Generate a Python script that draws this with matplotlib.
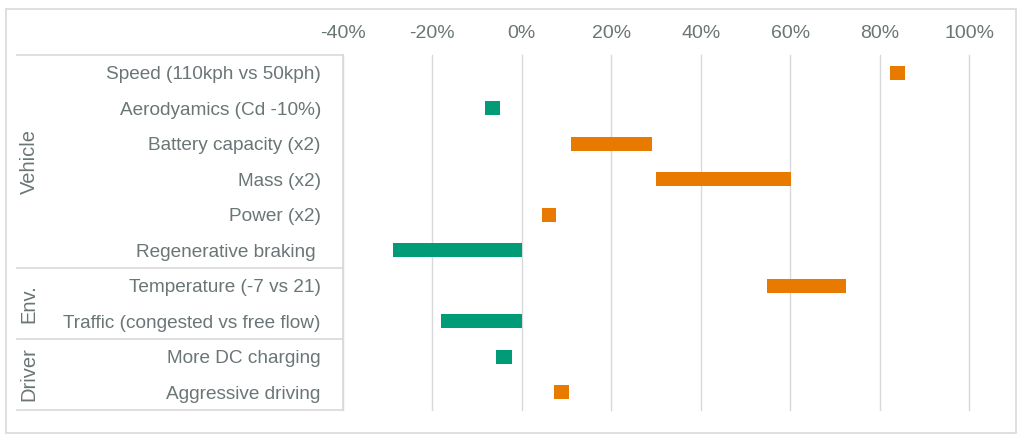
import matplotlib
matplotlib.use('Agg')
import matplotlib.pyplot as plt
from matplotlib.ticker import PercentFormatter
from matplotlib.lines import Line2D
from matplotlib.patches import Rectangle
import matplotlib.transforms as mtransforms

# data
factors = ['Speed (110kph vs 50kph)', 'Aerodyamics (Cd -10%)', 'Battery capacity (x2)',
           'Mass (x2)', 'Power (x2)', 'Regenerative braking ',
           'Temperature (-7 vs 21)', 'Traffic (congested vs free flow)',
           'More DC charging', 'Aggressive driving']
low = [0.823, -0.082, 0.109, 0.299, 0.044, -0.289, 0.549, -0.181, -0.057, 0.073]
high = [0.857, -0.049, 0.292, 0.601, 0.076, 0.0, 0.725, 0.0, -0.023, 0.106]
groups = ['Vehicle', 'Env.', 'Driver']
group_sizes = [6, 2, 2]

GREEN = '#009B77'
ORANGE = '#E97A00'
TEXT = '#6A7676'
LINE = '#D9D9D9'

plt.rcParams['font.family'] = ['Liberation Sans', 'DejaVu Sans']
plt.rcParams['axes.unicode_minus'] = False

W, H = 1024, 440
fig = plt.figure(figsize=(W / 100, H / 100), dpi=100)
ax = fig.add_axes([343 / W, 1 - 410 / H, (969 - 343) / W, 355 / H])

pos = list(range(len(factors)))
widths = [h - l for l, h in zip(low, high)]
colors = [ORANGE if h > 0 else GREEN for h in high]
ax.barh(pos, widths, left=low, height=0.39, color=colors, zorder=3)

ax.set_xlim(-0.4, 1.0)
ax.set_ylim(len(factors) - 0.5, -0.5)
ax.set_xticks([-0.4, -0.2, 0, 0.2, 0.4, 0.6, 0.8, 1.0])
ax.xaxis.set_major_formatter(PercentFormatter(1.0, decimals=0))
ax.xaxis.tick_top()
ax.tick_params(axis='x', length=0, pad=9, labelsize=14, labelcolor=TEXT)
ax.set_yticks(pos)
ax.set_yticklabels(factors)
ax.tick_params(axis='y', length=0, pad=16, labelsize=13.7, labelcolor=TEXT)
ax.grid(axis='x', color=LINE, linewidth=1, zorder=0)
for gl in ax.get_xgridlines():
    gl.set_clip_on(False)
ax.set_axisbelow(True)
for s in ['top', 'right', 'bottom']:
    ax.spines[s].set_visible(False)
ax.spines['left'].set_color(LINE)
ax.spines['left'].set_linewidth(1.2)

# label table lines and group names
trans = mtransforms.blended_transform_factory(fig.transFigure, ax.transData)
x0, x1 = 17 / W, 343 / W
start = 0
bounds = [-0.5]
for name, n in zip(groups, group_sizes):
    mid = start + (n - 1) / 2
    fig.text(29 / W, mid, name, transform=trans, rotation=90, ha='center', va='center',
             fontsize=14.5, color=TEXT)
    start += n
    bounds.append(start - 0.5)
for b in bounds:
    fig.add_artist(Line2D([x0, x1], [b, b], transform=trans, color=LINE, linewidth=1.2))

# outer border
fig.add_artist(Rectangle((6 / W, 1 - 433 / H), 1010 / W, 424 / H, transform=fig.transFigure,
                         fill=False, edgecolor=LINE, linewidth=1.2))

fig.savefig('out.png', dpi=100)
